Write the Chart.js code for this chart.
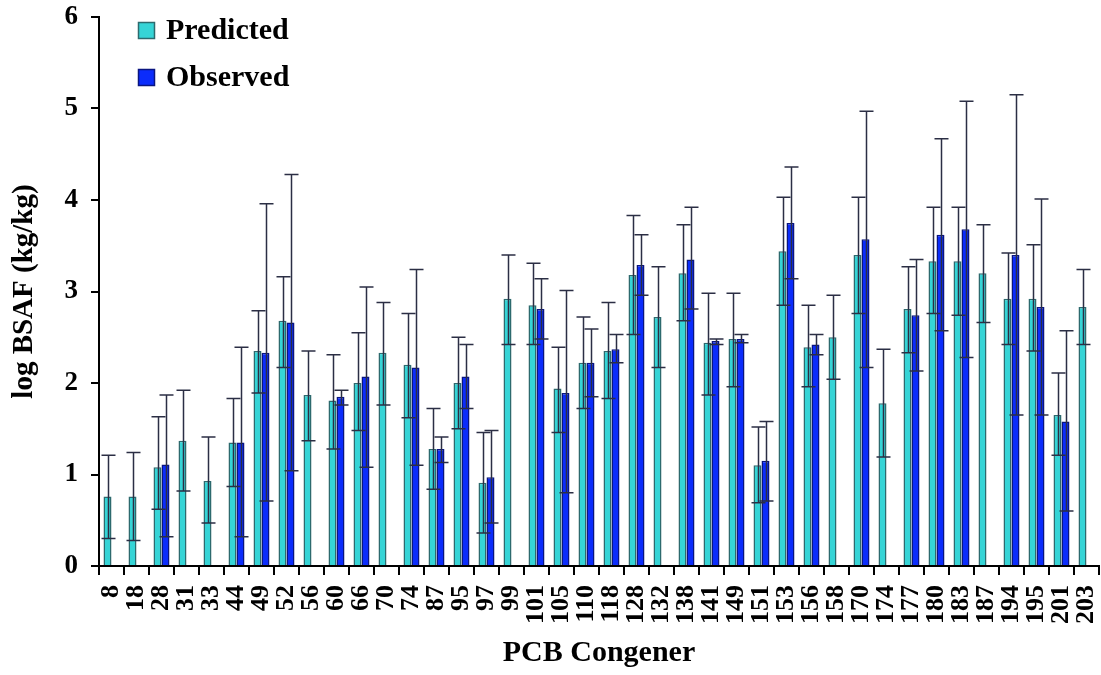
<!DOCTYPE html>
<html>
<head>
<meta charset="utf-8">
<title>log BSAF by PCB congener</title>
<script src="https://cdn.jsdelivr.net/npm/chart.js@4.4.1/dist/chart.umd.min.js"></script>
<style>
  html, body { margin: 0; padding: 0; background: #ffffff; }
  #chartBox { position: relative; width: 1101px; height: 675px; }
</style>
</head>
<body>
<div id="chartBox"><canvas id="chartBsaf"></canvas></div>
<script>
// PCB congener numbers along the x axis
var congeners = ["8", "18", "28", "31", "33", "44", "49", "52", "56", "60",
  "66", "70", "74", "87", "95", "97", "99", "101", "105", "110",
  "118", "128", "132", "138", "141", "149", "151", "153", "156", "158",
  "170", "174", "177", "180", "183", "187", "194", "195", "201", "203"];

// log BSAF (kg/kg)
var predicted = [0.76, 0.76, 1.08, 1.37, 0.93, 1.35, 2.35, 2.68, 1.87, 1.81,
  2.00, 2.33, 2.20, 1.28, 2.00, 0.91, 2.92, 2.85, 1.94, 2.22,
  2.35, 3.18, 2.72, 3.20, 2.44, 2.48, 1.10, 3.44, 2.39, 2.50,
  3.40, 1.78, 2.81, 3.33, 3.33, 3.20, 2.92, 2.92, 1.65, 2.83];
var predictedLow = [0.30, 0.28, 0.62, 0.82, 0.47, 0.87, 1.89, 2.17, 1.37, 1.28,
  1.48, 1.76, 1.62, 0.84, 1.50, 0.36, 2.42, 2.42, 1.46, 1.72,
  1.83, 2.53, 2.17, 2.68, 1.87, 1.96, 0.69, 2.85, 1.96, 2.04,
  2.76, 1.19, 2.33, 2.76, 2.74, 2.66, 2.42, 2.35, 1.21, 2.42];
var predictedHigh = [1.21, 1.24, 1.63, 1.92, 1.41, 1.83, 2.79, 3.16, 2.35, 2.31,
  2.55, 2.88, 2.76, 1.72, 2.50, 1.46, 3.40, 3.31, 2.39, 2.72,
  2.88, 3.83, 3.27, 3.73, 2.98, 2.98, 1.52, 4.03, 2.85, 2.96,
  4.03, 2.37, 3.27, 3.92, 3.92, 3.73, 3.42, 3.51, 2.11, 3.24];

var observed = [null, null, 1.11, null, null, 1.35, 2.33, 2.66, null, 1.85,
  2.07, null, 2.17, 1.28, 2.07, 0.97, null, 2.81, 1.89, 2.22,
  2.37, 3.29, null, 3.35, 2.46, 2.48, 1.15, 3.75, 2.42, null,
  3.57, null, 2.74, 3.62, 3.68, null, 3.40, 2.83, 1.58, null];
var observedLow = [null, null, 0.32, null, null, 0.32, 0.71, 1.04, null, 1.76,
  1.08, null, 1.10, 1.13, 1.72, 0.47, null, 2.48, 0.80, 1.85,
  2.22, 2.96, null, 2.81, 2.42, 2.44, 0.71, 3.14, 2.31, null,
  2.17, null, 2.13, 2.57, 2.28, null, 1.65, 1.65, 0.60, null];
var observedHigh = [null, null, 1.87, null, null, 2.39, 3.96, 4.28, null, 1.92,
  3.05, null, 3.24, 1.41, 2.42, 1.48, null, 3.14, 3.01, 2.59,
  2.53, 3.62, null, 3.92, 2.48, 2.53, 1.58, 4.36, 2.53, null,
  4.97, null, 3.35, 4.67, 5.08, null, 5.15, 4.01, 2.57, null];

var yTicks = [0, 1, 2, 3, 4, 5, 6];

(function () {
  var FONT = "'Liberation Serif', 'Times New Roman', serif";

  var colors = {
    predicted: "#36d4d6",
    predictedEdge: "#2d6a6e",
    observed: "#0b2cfb",
    observedEdge: "#0a1580",
    whisker: "#2b2e44",
    axis: "#000000",
  };

  // min/max whiskers drawn over each bar
  var errorBars = {
    id: "errorBars",
    afterDatasetsDraw: function (chart) {
      var ctx = chart.ctx;
      var y = chart.scales.y;
      var ranges = [[predictedLow, predictedHigh], [observedLow, observedHigh]];
      ctx.save();
      ctx.strokeStyle = colors.whisker;
      ctx.lineWidth = 1.5;
      ranges.forEach(function (r, i) {
        var meta = chart.getDatasetMeta(i);
        meta.data.forEach(function (bar, j) {
          if (r[0][j] == null || r[1][j] == null) return;
          var x = Math.round(bar.x) + 0.5;
          var lo = y.getPixelForValue(r[0][j]);
          var hi = y.getPixelForValue(r[1][j]);
          ctx.beginPath();
          ctx.moveTo(x, lo);
          ctx.lineTo(x, hi);
          ctx.moveTo(x - 7, hi);
          ctx.lineTo(x + 7, hi);
          ctx.moveTo(x - 7, lo);
          ctx.lineTo(x + 7, lo);
          ctx.stroke();
        });
      });
      ctx.restore();
    },
  };

  // legend sits inside the plot, top left
  var insideLegend = {
    id: "insideLegend",
    afterDraw: function (chart) {
      var ctx = chart.ctx;
      ctx.save();
      ctx.font = "bold 30px " + FONT;
      ctx.textBaseline = "middle";
      ctx.textAlign = "left";
      chart.data.datasets.forEach(function (ds, i) {
        var cy = 30 + i * 47;
        ctx.fillStyle = ds.backgroundColor;
        ctx.fillRect(138, cy - 8, 17, 17);
        ctx.lineWidth = 1.5;
        ctx.strokeStyle = ds.borderColor;
        ctx.strokeRect(138.5, cy - 7.5, 16, 16);
        ctx.fillStyle = "#000";
        ctx.fillText(ds.label, 166, cy + 1);
      });
      ctx.restore();
    },
  };

  function noEdgePadding(scale) {
    scale.paddingLeft = 0;
    scale.paddingRight = 0;
    scale.paddingTop = 0;
    scale.paddingBottom = 0;
  }

  function boot() {
    var el = document.getElementById("chartBsaf");
    new Chart(el, {
      type: "bar",
      data: {
        labels: congeners,
        datasets: [
          {
            label: "Predicted",
            data: predicted,
            backgroundColor: colors.predicted,
            borderColor: colors.predictedEdge,
            borderWidth: 1.5,
            categoryPercentage: 0.64,
            barPercentage: 1.0,
          },
          {
            label: "Observed",
            data: observed,
            backgroundColor: colors.observed,
            borderColor: colors.observedEdge,
            borderWidth: 1.5,
            categoryPercentage: 0.64,
            barPercentage: 1.0,
          },
        ],
      },
      options: {
        responsive: true,
        maintainAspectRatio: false,
        animation: false,
        layout: { padding: { top: 17, right: 2, bottom: 0, left: 0 } },
        plugins: {
          legend: { display: false },
          tooltip: { enabled: false },
        },
        scales: {
          x: {
            grid: {
              offset: true,
              drawOnChartArea: false,
              drawTicks: true,
              tickLength: 9,
              color: colors.axis,
              lineWidth: 2,
            },
            border: { display: true, color: colors.axis, width: 2 },
            ticks: {
              autoSkip: false,
              maxRotation: 90,
              minRotation: 90,
              padding: 10,
              color: "#000",
              font: { family: FONT, size: 26, weight: "bold", lineHeight: 1 },
            },
            title: {
              display: true,
              text: "PCB Congener",
              color: "#000",
              padding: { top: 0, bottom: 4 },
              font: { family: FONT, size: 30, weight: "bold" },
            },
            afterFit: function (scale) {
              scale.height = 109;
              noEdgePadding(scale);
            },
          },
          y: {
            min: 0,
            max: 6,
            afterBuildTicks: function (scale) {
              scale.ticks = yTicks.map(function (v) { return { value: v }; });
            },
            grid: {
              drawOnChartArea: false,
              drawTicks: true,
              tickLength: 8,
              color: colors.axis,
              lineWidth: 2,
            },
            border: { display: true, color: colors.axis, width: 2 },
            ticks: {
              padding: 13,
              color: "#000",
              font: { family: FONT, size: 27, weight: "bold" },
            },
            title: {
              display: true,
              text: "log BSAF (kg/kg)",
              color: "#000",
              padding: { top: 7, bottom: 0 },
              font: { family: FONT, size: 29, weight: "bold" },
            },
            afterFit: function (scale) {
              scale.width = 99;
              noEdgePadding(scale);
            },
          },
        },
      },
      plugins: [errorBars, insideLegend],
    });
  }

  if (document.readyState === "loading") {
    document.addEventListener("DOMContentLoaded", boot);
  } else {
    boot();
  }
})();
</script>
</body>
</html>
